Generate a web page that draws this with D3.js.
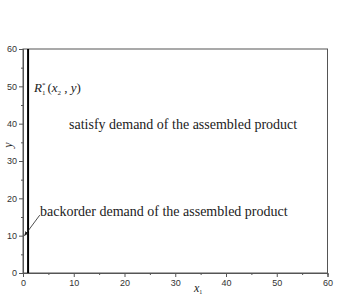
<!DOCTYPE html>
<html>
<head>
<meta charset="utf-8">
<script src="https://cdn.jsdelivr.net/npm/d3@7"></script>
<style>
  body { margin: 0; background: #fff; }
  svg text { fill: #222; }
  .tick text { font-family: "Liberation Sans", Arial, sans-serif; font-size: 9px; fill: #333; }
  .serif { font-family: "Liberation Serif", "Times New Roman", serif; }
</style>
</head>
<body>
<script>
// data
const xDomain = [0, 60];
const yDomain = [0, 60];
const xTicks = [0, 10, 20, 30, 40, 50, 60];
const yTicks = [0, 10, 20, 30, 40, 50, 60];
const boundaryX = [1, 1];
const boundaryY = [0, 60];
const arrowFrom = [3.3, 15.5];
const arrowTo = [0.3, 10];

const width = 338, height = 296;
const margin = {left: 23, right: 10, top: 49, bottom: 23};

const x = d3.scaleLinear().domain(xDomain).range([margin.left, 327.5]);
const y = d3.scaleLinear().domain(yDomain).range([273, margin.top]);

const svg = d3.select("body").append("svg")
    .attr("width", width)
    .attr("height", height);

svg.append("defs").append("marker")
    .attr("id", "arrow")
    .attr("viewBox", "0 0 10 10")
    .attr("refX", 9).attr("refY", 5)
    .attr("markerWidth", 6).attr("markerHeight", 6)
    .attr("orient", "auto")
    .append("path")
    .attr("d", "M0,1 L10,5 L0,9 z")
    .attr("fill", "#222");

// frame
svg.append("rect")
    .attr("x", x(0)).attr("y", y(60))
    .attr("width", x(60) - x(0)).attr("height", y(0) - y(60))
    .attr("fill", "none").attr("stroke", "#555").attr("stroke-width", 1);

function styleAxis(g){
    g.select(".domain").attr("stroke", "#555");
    g.selectAll(".tick line").attr("stroke", "#555");
}

const xAxis = svg.append("g")
    .attr("transform", `translate(0,${y(0)})`)
    .call(d3.axisBottom(x).tickValues(xTicks).tickSize(4).tickPadding(3));
styleAxis(xAxis);
svg.append("g")
    .attr("transform", `translate(0,${y(0)})`)
    .call(d3.axisBottom(x).tickValues(d3.range(5, 60, 10)).tickSize(2).tickFormat(""))
    .call(styleAxis);

const yAxis = svg.append("g")
    .attr("transform", `translate(${x(0)},0)`)
    .call(d3.axisLeft(y).tickValues(yTicks).tickSize(4).tickPadding(2));
styleAxis(yAxis);
svg.append("g")
    .attr("transform", `translate(${x(0)},0)`)
    .call(d3.axisLeft(y).tickValues(d3.range(5, 60, 10)).tickSize(2).tickFormat(""))
    .call(styleAxis);

// boundary line
svg.append("line")
    .attr("x1", x(boundaryX[0])).attr("x2", x(boundaryX[1]))
    .attr("y1", y(boundaryY[0])).attr("y2", y(boundaryY[1]))
    .attr("stroke", "#000").attr("stroke-width", 2);

// arrow
svg.append("line")
    .attr("x1", x(arrowFrom[0])).attr("y1", y(arrowFrom[1]))
    .attr("x2", x(arrowTo[0])).attr("y2", y(arrowTo[1]))
    .attr("stroke", "#222").attr("stroke-width", 0.8)
    .attr("marker-end", "url(#arrow)");

// labels
const rLabel = svg.append("text").attr("class", "serif")
    .attr("x", 34).attr("y", 92).attr("font-size", 13).attr("font-style", "italic");
rLabel.append("tspan").text("R");
rLabel.append("tspan").attr("font-size", 7).attr("dy", 3).attr("font-style", "normal").text("1");
rLabel.append("tspan").attr("font-size", 7).attr("dx", -3.5).attr("dy", -8).attr("font-style", "normal").text("*");
rLabel.append("tspan").attr("dx", 2).attr("dy", 5).attr("font-style", "normal").text("(");
rLabel.append("tspan").text("x");
rLabel.append("tspan").attr("font-size", 7).attr("dy", 3).attr("font-style", "normal").text("2");
rLabel.append("tspan").attr("dy", -3).attr("font-style", "normal").text(" , ");
rLabel.append("tspan").text("y");
rLabel.append("tspan").attr("font-style", "normal").text(")");

svg.append("text").attr("class", "serif")
    .attr("x", 69).attr("y", 129).attr("font-size", 14)
    .text("satisfy demand of the assembled product");

svg.append("text").attr("class", "serif")
    .attr("x", 40).attr("y", 216).attr("font-size", 14)
    .text("backorder demand of the assembled product");

const xl = svg.append("text").attr("class", "serif")
    .attr("x", 194).attr("y", 292).attr("font-size", 12).attr("font-style", "italic");
xl.append("tspan").text("x");
xl.append("tspan").attr("font-size", 6).attr("dy", 2).attr("font-style", "normal").text("1");

svg.append("text").attr("class", "serif")
    .attr("transform", "translate(12,145) rotate(-90)")
    .attr("text-anchor", "middle")
    .attr("font-size", 12).attr("font-style", "italic")
    .text("y");
</script>
</body>
</html>
